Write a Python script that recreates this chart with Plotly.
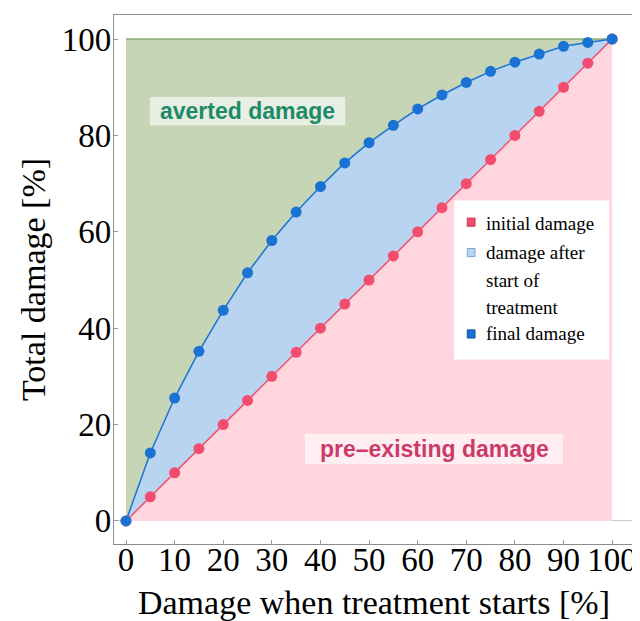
import plotly.graph_objects as go

# ---- data ----
start_damage = [0, 5, 10, 15, 20, 25, 30, 35, 40, 45, 50, 55, 60, 65, 70, 75, 80, 85, 90, 95, 100]
initial_damage = [0, 5, 10, 15, 20, 25, 30, 35, 40, 45, 50, 55, 60, 65, 70, 75, 80, 85, 90, 95, 100]
final_damage = [0, 14.1, 25.5, 35.2, 43.7, 51.5, 58.2, 64.1, 69.4, 74.3, 78.5, 82.1, 85.5,
                88.4, 91.0, 93.3, 95.2, 96.9, 98.5, 99.3, 100]
total_max = 100
x_ticks = [0, 10, 20, 30, 40, 50, 60, 70, 80, 90, 100]
y_ticks = [0, 20, 40, 60, 80, 100]
legend_labels = ["initial damage", "damage after", "start of", "treatment", "final damage"]

RED = "#f24d6e"
BLUE = "#1a73d3"
PINK_FILL = "#ffd6de"
BLUE_FILL = "#b9d4f1"
GREEN_FILL = "#c5d5b5"
GREEN_LINE = "#8aab72"
SERIF = "Liberation Serif"
SANS = "Liberation Sans"

fig = go.Figure()

# fills
fig.add_trace(go.Scatter(x=start_damage, y=initial_damage, mode="lines", line=dict(width=0),
                         fill="tozeroy", fillcolor=PINK_FILL, hoverinfo="skip", showlegend=False))
fig.add_trace(go.Scatter(x=start_damage, y=final_damage, mode="lines", line=dict(width=0),
                         fill="tonexty", fillcolor=BLUE_FILL, hoverinfo="skip", showlegend=False))
fig.add_trace(go.Scatter(x=[start_damage[0], start_damage[-1]], y=[total_max, total_max], mode="lines",
                         line=dict(width=1.5, color=GREEN_LINE),
                         fill="tonexty", fillcolor=GREEN_FILL, hoverinfo="skip", showlegend=False))

# lines + markers
fig.add_trace(go.Scatter(x=start_damage, y=initial_damage, mode="lines+markers",
                         line=dict(color=RED, width=1.5),
                         marker=dict(color=RED, size=11), showlegend=False))
fig.add_trace(go.Scatter(x=start_damage, y=final_damage, mode="lines+markers",
                         line=dict(color=BLUE, width=1.5),
                         marker=dict(color=BLUE, size=11), showlegend=False))

# region labels
fig.add_shape(type="rect", x0=4.9, x1=45.1, y0=82.1, y1=88.0, line=dict(width=0),
              fillcolor="rgba(255,255,255,0.6)", layer="above")
fig.add_annotation(x=24.9, y=85.0, text="<b>averted damage</b>", showarrow=False,
                   font=dict(family=SANS, size=23, color="#1d8a6a"))
fig.add_shape(type="rect", x0=36.8, x1=89.9, y0=11.8, y1=18.1, line=dict(width=0),
              fillcolor="rgba(255,255,255,0.6)", layer="above")
fig.add_annotation(x=63.4, y=15.0, text="<b>pre\u2013existing damage</b>", showarrow=False,
                   font=dict(family=SANS, size=23, color="#cc3a68"))

# custom legend
fig.add_shape(type="rect", x0=67.5, x1=99.4, y0=33.5, y1=66.5, line=dict(width=0),
              fillcolor="white", layer="above")
legend_y = [61.8, 55.7, 49.8, 44.3, 38.8]
for lbl, yy in zip(legend_labels, legend_y):
    fig.add_annotation(x=73.7, y=yy, text=lbl, showarrow=False, xanchor="left",
                       font=dict(family=SERIF, size=19, color="black"))
for yy, fc, lc in [(62.0, RED, "#c8344f"), (55.7, BLUE_FILL, "#7fa6d4"), (38.8, BLUE, "#0f4f9c")]:
    fig.add_shape(type="rect", x0=70.2, x1=71.8, y0=yy - 0.84, y1=yy + 0.84,
                  line=dict(width=1, color=lc), fillcolor=fc, layer="above")

axis_common = dict(showgrid=False, ticks="inside", ticklen=4, tickcolor="#999999",
                   showline=True, linecolor="#8c8c8c", linewidth=1.2, mirror=True,
                   automargin=False,
                   tickfont=dict(family=SERIF, size=33, color="black"))

fig.update_xaxes(range=[-2.47, 104.5], tickvals=x_ticks, zeroline=False, ticklabelstandoff=-14,
                 title=dict(text="Damage when treatment starts [%]",
                            font=dict(family=SERIF, size=34, color="black"), standoff=16),
                 **axis_common)
fig.update_yaxes(range=[-4.79, 105.0], tickvals=y_ticks, zeroline=True, zerolinecolor="#cccccc",
                 zerolinewidth=1, ticklabelstandoff=-5,
                 title=dict(text="Total damage [%]",
                            font=dict(family=SERIF, size=34, color="black"), standoff=5),
                 **axis_common)

# the page body adds an 8px offset, so the figure is sized to fit the 640x621 window
fig.update_layout(width=632, height=613, margin=dict(l=106, r=6, t=7, b=77),
                  plot_bgcolor="white", paper_bgcolor="white", showlegend=False)

fig.write_html("out.html")
